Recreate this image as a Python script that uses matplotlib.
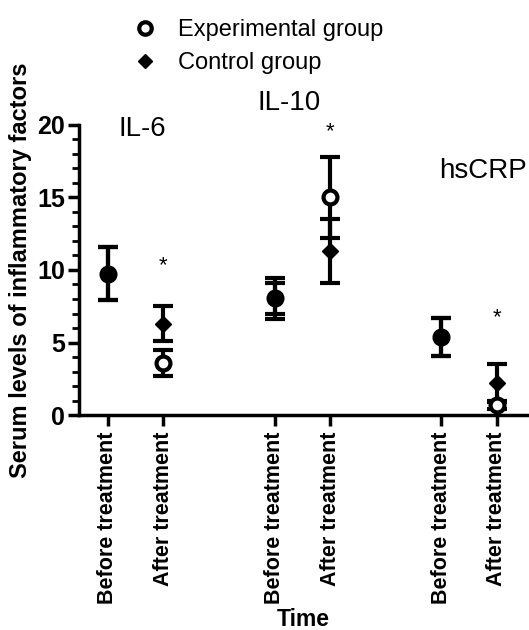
import matplotlib
matplotlib.use("Agg")
import matplotlib.pyplot as plt
from matplotlib.lines import Line2D
from matplotlib.ticker import MultipleLocator

plt.rcParams['font.family'] = ['Liberation Sans', 'DejaVu Sans']

# data
positions = [1, 2, 4, 5, 7, 8]
tick_labels = ['Before treatment', 'After treatment'] * 3
exp_mean = [9.75, 3.6, 8.05, 15.0, 5.4, 0.7]
exp_err = [1.8, 0.9, 1.05, 2.8, 1.3, 0.3]
ctrl_mean = [9.75, 6.3, 8.05, 11.3, 5.4, 2.2]
ctrl_err = [1.8, 1.2, 1.4, 2.2, 1.3, 1.3]

groups = ['IL-6', 'IL-10', 'hsCRP']
group_pos = [(1.63, 19.7), (4.27, 21.5), (7.75, 16.8)]
star_pos = [(2, 10.3), (5, 19.5), (8, 6.7)]

fig = plt.figure(figsize=(5.29, 6.30), dpi=100)
ax = fig.add_axes([0.149, 0.341, 0.847, 0.461])

# control bars under the open circles, control diamonds on top
ax.errorbar(positions, ctrl_mean, yerr=ctrl_err, fmt='none', ecolor='black',
            elinewidth=3, capsize=7, capthick=3, zorder=2)
ax.errorbar(positions, exp_mean, yerr=exp_err, fmt='o', color='black',
            markerfacecolor='white', markeredgecolor='black', markersize=10,
            markeredgewidth=3, elinewidth=3, capsize=7, capthick=3, zorder=3)
ax.plot(positions, ctrl_mean, 'D', color='black', markersize=8, zorder=4)

for name, (gx, gy) in zip(groups, group_pos):
    ax.text(gx, gy, name, fontsize=20, ha='center', va='center', clip_on=False)
for sx, sy in star_pos:
    ax.text(sx, sy, '*', fontsize=16, ha='center', va='center', clip_on=False)

ax.set_xlim(0.48, 8.54)
ax.set_ylim(0, 20)
ax.set_xticks(positions)
ax.set_xticklabels(tick_labels, rotation=90, fontsize=15.5, fontweight='bold')
ax.yaxis.set_major_locator(MultipleLocator(5))
ax.yaxis.set_minor_locator(MultipleLocator(1))
for lab in ax.get_yticklabels():
    lab.set_fontsize(18)
    lab.set_fontweight('bold')

ax.spines['top'].set_visible(False)
ax.spines['right'].set_visible(False)
ax.spines['left'].set_linewidth(2.5)
ax.spines['bottom'].set_linewidth(2.5)
ax.tick_params(axis='both', which='major', length=8, width=2.5)
ax.tick_params(axis='y', which='major', pad=2)
ax.tick_params(axis='y', which='minor', length=5, width=2)

ax.set_xlabel('Time', fontsize=16.5, fontweight='bold', labelpad=3)
ax.set_ylabel('Serum levels of inflammatory factors', fontsize=17, fontweight='bold')

handles = [Line2D([], [], marker='o', linestyle='none', markerfacecolor='white',
                  markeredgecolor='black', markeredgewidth=3, markersize=9),
           Line2D([], [], marker='D', linestyle='none', color='black', markersize=7)]
fig.legend(handles, ['Experimental group', 'Control group'], loc='upper left',
           bbox_to_anchor=(0.212, 1.003), frameon=False, fontsize=17,
           handlelength=1.0, handletextpad=0.9, labelspacing=0.45)

fig.savefig('out.png', dpi=100)
